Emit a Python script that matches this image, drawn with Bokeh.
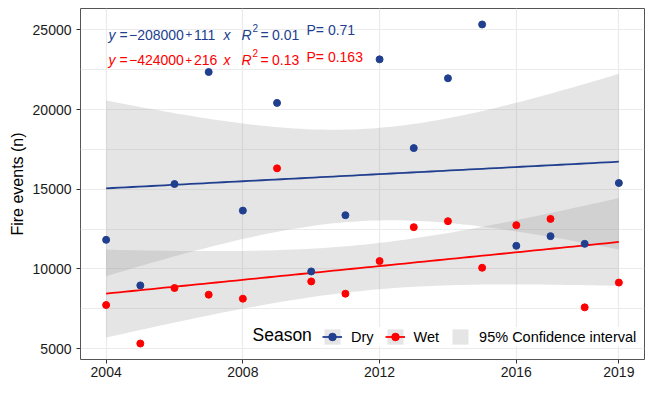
import numpy as np
from bokeh.plotting import figure
from bokeh.models import Range1d, FixedTicker, Label, Legend, LegendItem
from bokeh.embed import file_html
from bokeh.resources import INLINE

# ---------------- data ----------------
years = [2004, 2005, 2006, 2007, 2008, 2009, 2010, 2011,
         2012, 2013, 2014, 2015, 2016, 2017, 2018, 2019]
dry = [11823, 8962, 15328, 22360, 13657, 20418, 9838, 13369,
       23153, 17582, 21964, 25344, 11447, 12054, 11572, 15391]
wet = [7730, 5312, 8799, 8380, 8129, 16311, 9212, 8442,
       10489, 12618, 12993, 10070, 12743, 13137, 7585, 9140]

x_ticks = [2004, 2008, 2012, 2016, 2019]
y_ticks = [5000, 10000, 15000, 20000, 25000]
y_minor = [7500, 12500, 17500, 22500]

season_title = "Season"
series_names = ["Dry", "Wet"]
ci_name = "95% Confidence interval"
eq_dry = ["y", "=", "\u2212208000", "+", "111", "x", "R", "2", "=", "0.01", "P= 0.71"]
eq_wet = ["y", "=", "\u2212424000", "+", "216", "x", "R", "2", "=", "0.13", "P= 0.163"]

BLUE = "#213F8F"
RED = "#FF0000"
FONT = "Liberation Sans"
T_CRIT = 2.1448  # t(0.975, df=14)

# ---------------- regression + confidence band ----------------
xa = np.array(years, dtype=float)
xs = np.linspace(xa.min(), xa.max(), 80)


def fit(yv):
    ya = np.array(yv, dtype=float)
    b, a = np.polyfit(xa, ya, 1)
    res = ya - (a + b * xa)
    n = len(xa)
    s = np.sqrt(np.sum(res ** 2) / (n - 2))
    sxx = np.sum((xa - xa.mean()) ** 2)
    yhat = a + b * xs
    se = s * np.sqrt(1.0 / n + (xs - xa.mean()) ** 2 / sxx)
    return yhat, yhat - T_CRIT * se, yhat + T_CRIT * se


dry_fit, dry_lo, dry_hi = fit(dry)
wet_fit, wet_lo, wet_hi = fit(wet)

allv = dry + wet
span = max(allv) - min(allv)
xspan = max(years) - min(years)

p = figure(width=654, height=396, output_backend="svg", toolbar_location=None,
           x_range=Range1d(min(years) - 0.05 * xspan, max(years) + 0.05 * xspan),
           y_range=Range1d(min(allv) - 0.05 * span, max(allv) + 0.05 * span),
           min_border_left=80, min_border_right=10, min_border_top=8,
           min_border_bottom=37)
p.background_fill_color = "white"
p.border_fill_color = "white"
p.outline_line_color = "#555555"
p.outline_line_width = 1

# grids
p.xgrid.ticker = FixedTicker(ticks=x_ticks)
p.ygrid.ticker = FixedTicker(ticks=y_ticks, minor_ticks=y_minor)
p.xgrid.grid_line_color = "#EBEBEB"
p.ygrid.grid_line_color = "#EBEBEB"
p.ygrid.minor_grid_line_color = "#EBEBEB"
p.xgrid.grid_line_width = 1.2
p.ygrid.grid_line_width = 1.2
p.ygrid.minor_grid_line_width = 1.0

# axes
p.xaxis.ticker = FixedTicker(ticks=x_ticks)
p.yaxis.ticker = FixedTicker(ticks=y_ticks)
for ax in (p.xaxis, p.yaxis):
    ax.axis_line_color = None
    ax.major_tick_line_color = "#333333"
    ax.major_tick_out = 4
    ax.major_tick_in = 0
    ax.minor_tick_line_color = None
    ax.major_label_text_font = FONT
    ax.major_label_text_font_size = "14px"
    ax.major_label_text_color = "#1A1A1A"
p.xaxis.major_label_standoff = 3
p.yaxis.major_label_standoff = 5
p.yaxis.axis_label = "Fire events (n)"
p.yaxis.axis_label_text_font = FONT
p.yaxis.axis_label_text_font_size = "16px"
p.yaxis.axis_label_text_font_style = "normal"
p.yaxis.axis_label_text_color = "black"
p.yaxis.axis_label_standoff = 4

# bands
band_kw = dict(fill_color="#999999", fill_alpha=0.25)
r_dband = p.varea(x=xs, y1=dry_lo, y2=dry_hi, **band_kw)
r_wband = p.varea(x=xs, y1=wet_lo, y2=wet_hi, **band_kw)

# fit lines
r_dline = p.line(xs, dry_fit, line_color=BLUE, line_width=1.8)
r_wline = p.line(xs, wet_fit, line_color=RED, line_width=1.8)

# points
r_dpts = p.scatter(years, dry, size=7, fill_color=BLUE, line_color=BLUE)
r_wpts = p.scatter(years, wet, size=7, fill_color=RED, line_color=RED)

# legend
legend = Legend(items=[
    LegendItem(label=series_names[0], renderers=[r_dband, r_dline, r_dpts]),
    LegendItem(label=series_names[1], renderers=[r_wband, r_wline, r_wpts]),
    LegendItem(label=ci_name, renderers=[r_dband]),
], orientation="horizontal", location=(242, 13),
    glyph_width=20, glyph_height=19, label_height=19,
    label_standoff=9, spacing=11, padding=6, margin=0,
    label_text_font=FONT, label_text_font_size="14.5px",
    label_text_color="black",
    background_fill_color="white", background_fill_alpha=1.0,
    border_line_color=None)
p.add_layout(legend, "center")

# ---------------- text annotations ----------------
FL, FB = 80, 359  # frame left / bottom in page pixels


def lab(text, rx, rby, color, size="14px", style="normal", baseline="alphabetic"):
    p.add_layout(Label(x=rx - FL, y=FB - rby, x_units="screen", y_units="screen",
                       text=text, text_color=color, text_font=FONT,
                       text_font_size=size, text_font_style=style,
                       text_baseline=baseline, text_align="left"))


lab(season_title, 252, 334, "black", size="17.5px", baseline="middle")

xpos = [108, 119, 128.5, 185, 193.5, 223, 241, 252, 260, 271.5, 306]
styles = ["italic", "normal", "normal", "normal", "normal", "italic", "italic",
          "normal", "normal", "normal", "normal"]
for eq, color, base, pbase in ((eq_dry, BLUE, 34, 29.5), (eq_wet, RED, 59.5, 56)):
    for i, (tok, xp, st) in enumerate(zip(eq, xpos, styles)):
        if i == 7:
            lab(tok, xp, base - 7, color, size="10px", style=st)
        elif i == 3:
            lab(tok, xp, base - 0.5, color, size="11.5px", style=st)
        elif i == 10:
            lab(tok, xp, pbase, color, style=st)
        else:
            lab(tok, xp, base, color, style=st)

open("out.html", "w").write(file_html(p, INLINE))
